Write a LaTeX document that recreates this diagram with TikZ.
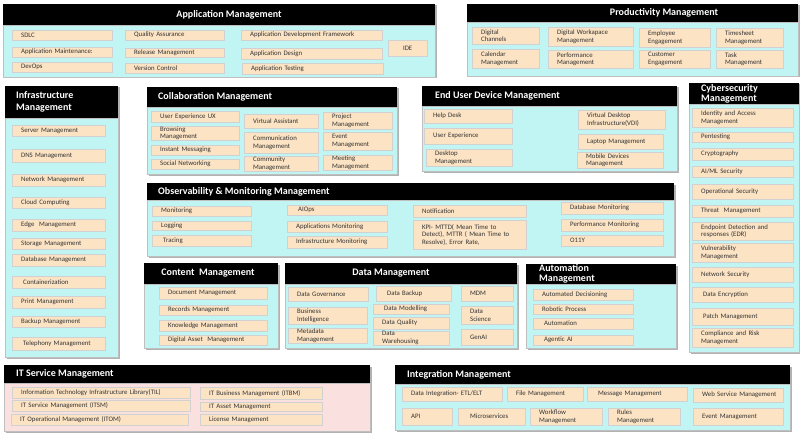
\documentclass[tikz,border=0pt]{standalone}
\usepackage{fontspec}
\setmainfont{Carlito}
\usetikzlibrary{shadows}
\definecolor{bodycyan}{HTML}{C0F5F3}
\definecolor{bodypink}{HTML}{FBE0E0}
\definecolor{peach}{HTML}{FCE3C3}
\definecolor{itemtext}{HTML}{333333}
\tikzset{
  itembox/.style={fill=peach, draw=black!18, line width=0.3pt, inner ysep=0pt, inner xsep=9pt,
    align=left, text=itemtext, font=\fontsize{6.8}{7.6}\selectfont,
    general shadow={fill=black!38, shadow xshift=0.8pt, shadow yshift=-1pt}},
  ptitle/.style={text=white, font=\fontsize{10}{11.5}\selectfont\bfseries, inner sep=0pt, align=left},
  ptitletight/.style={ptitle, font=\fontsize{10}{10.3}\selectfont\bfseries}
}
\newcommand\bx[7][]{%
  \pgfmathsetmacro\bxw{#5-#3}%
  \pgfmathsetmacro\bxh{#6-#4}%
  \pgfmathsetmacro\bxt{#5-#3-18}%
  \node[itembox, minimum width=\bxw pt, minimum height=\bxh pt, text width=\bxt pt, anchor=north west, #1] (#2) at (#3,#4) {#7};}
\newcommand\panel[7]{%
  \fill[black!30] (#2+1.5,#3+1.5) rectangle (#5+1.5,#6+1.5);
  \draw[fill=#7, draw=black!25, line width=0.4pt] (#2,#4) rectangle (#5,#6);
  \fill[black] (#2,#3) rectangle (#5,#4);
  \coordinate (#1) at (#2,#3);}
\begin{document}
\begin{tikzpicture}[x=1pt, y=-1pt]
\useasboundingbox[fill=white] (0,0) rectangle (800,433);

% ---------- Application Management
\panel{app}{3}{4}{25}{435}{77}{bodycyan}
\node[ptitle] (apptitle) at (229,14.5) {Application Management};
\bx{sdlc}{12}{30}{112}{40}{SDLC}
\bx{appmaint}{12}{47}{112}{57}{Application Maintenance:}
\bx{devops}{12}{62}{112}{72}{DevOps}
\bx{qa}{125}{30}{224}{40}{Quality Assurance}
\bx{release}{125}{48}{224}{57}{Release Management}
\bx{vc}{125}{63}{224}{73}{Version Control}
\bx{adf}{241}{30}{382}{40}{Application Development Framework}
\bx{adesign}{241}{48}{382}{59}{Application Design}
\bx{atest}{242}{63}{383}{74}{Application Testing}
\bx[align=center]{ide}{388}{40}{427}{56}{IDE}

% ---------- Productivity Management
\panel{prod}{467}{4}{22}{798}{76}{bodycyan}
\node[ptitle] (prodtitle) at (664,13) {Productivity Management};
\bx{digch}{472}{27}{539}{44}{Digital\\Channels}
\bx{cal}{472}{49}{539}{68}{Calendar\\Management}
\bx{dwm}{548}{27}{633}{46}{Digital Workapace\\Management}
\bx{perf}{548}{50}{633}{68}{Performance\\Management}
\bx{emp}{639}{28}{710}{47}{Employee\\Engagement}
\bx{cust}{639}{50}{710}{68}{Customer\\Engagement}
\bx{ts}{716}{28}{783}{47}{Timesheet\\Management}
\bx{task}{716}{50}{783}{68}{Task\\Management}

% ---------- Infrastructure Management
\panel{infra}{5}{86}{118}{118}{357}{bodycyan}
\node[ptitle, anchor=west] (infratitle) at (16,102) {Infrastructure\\Management};
\bx{server}{12}{125}{105}{136}{Server Management}
\bx{dns}{12}{149}{105}{162}{DNS Management}
\bx{netm}{12}{174}{105}{186}{Network Management}
\bx{cloud}{12}{197}{105}{208}{Cloud Computing}
\bx{edge}{12}{219}{105}{231}{Edge\ \ Management}
\bx{storage}{12}{238}{105}{249}{Storage Management}
\bx{dbm}{12}{254}{105}{266}{Database Management}
\bx{cont}{12}{276}{105}{288}{\hspace{2pt}Containerization}
\bx{print}{12}{296}{105}{308}{Print Management}
\bx{backup}{12}{316}{105}{327}{Backup Management}
\bx{tel}{12}{337}{105}{350}{\hspace{2pt}Telephony Management}

% ---------- Collaboration Management
\panel{collab}{147}{87}{107}{397}{174}{bodycyan}
\node[ptitle, anchor=west] (collabtitle) at (158,97) {Collaboration Management};
\bx{uxx}{151}{111}{239}{122}{User Experience UX}
\bx{browse}{151}{126}{239}{140}{Browsing\\Management}
\bx{im}{151}{145}{239}{155}{Instant Messaging}
\bx{social}{151}{159}{239}{169}{Social Networking}
\bx{va}{244}{114}{318}{128}{Virtual Assistant}
\bx{comm}{244}{132}{318}{153}{Communication\\Management}
\bx{community}{244}{156}{318}{171}{Community\\Management}
\bx{project}{323}{112}{392}{129}{Project\\Management}
\bx{event}{323}{132}{392}{150}{Event\\Management}
\bx{meeting}{323}{155}{392}{170}{Meeting\\Management}

% ---------- End User Device Management
\panel{eud}{422}{86}{106}{677}{171}{bodycyan}
\node[ptitle, anchor=west] (eudtitle) at (435,96) {End User Device Management};
\bx{help}{424}{109}{512}{123}{Help Desk}
\bx{ue}{424}{128}{512}{144}{User Experience}
\bx{desk}{426}{149}{512}{166}{Desktop\\Management}
\bx{vdi}{578}{110}{665}{129}{Virtual Desktop\\Infrastructure(VDI)}
\bx{laptop}{578}{134}{663}{149}{Laptop Management}
\bx{mobile}{577}{152}{663}{168}{Mobile Devices\\Management}

% ---------- Cybersecurity Management
\panel{cyber}{689}{83}{104}{799}{352}{bodycyan}
\node[ptitletight, anchor=west] (cybertitle) at (701,93.5) {Cybersecurity\\Management};
\bx{iam}{692}{108}{793}{127}{Identity and Access\\Management}
\bx{pent}{692}{132}{793}{142}{Pentesting}
\bx{crypto}{692}{148}{793}{160}{Cryptography}
\bx{aiml}{692}{166}{793}{177}{AI/ML Security}
\bx{opsec}{692}{184}{793}{199}{Operational Security}
\bx{threat}{692}{205}{793}{217}{Threat\ \ Management}
\bx{edr}{692}{222}{793}{240}{Endpoint Detection and\\responses (EDR)}
\bx{vuln}{692}{243}{793}{262}{Vulnerability\\Management}
\bx{netsec}{692}{267}{793}{282}{Network Security}
\bx{enc}{692}{287}{793}{302}{\hspace{2pt}Data Encryption}
\bx{patch}{692}{308}{793}{325}{\hspace{2pt}Patch Management}
\bx{compl}{692}{328}{793}{347}{Compliance and Risk\\Management}

% ---------- Observability & Monitoring Management
\panel{obs}{147}{183}{200}{674}{256}{bodycyan}
\node[ptitle, anchor=west] (obstitle) at (158,191.5) {Observability \& Monitoring Management};
\bx{mon}{152}{206}{251}{216}{Monitoring}
\bx{logg}{152}{221}{251}{230}{Logging}
\bx{trac}{152}{235}{251}{246}{\hspace{2pt}Tracing}
\bx{aiops}{287}{205}{387}{215}{\hspace{2pt}AIOps}
\bx{appmon}{287}{221}{387}{232}{Applications Monitoring}
\bx{inframon}{287}{236}{387}{248}{Infrastructure Monitoring}
\bx{notif}{413}{205}{526}{217}{Notification}
\bx{kpi}{413}{220}{526}{249}{KPI- MTTD( Mean Time to\\Detect), MTTR ( Mean Time to\\Resolve), Error Rate,}
\bx{dbmon}{561}{202}{663}{214}{Database Monitoring}
\bx{perfmon}{561}{219}{663}{231}{Performance Monitoring}
\bx{o11y}{561}{235}{663}{246}{O11Y}

% ---------- Content Management
\panel{content}{144}{263}{284}{278}{348}{bodycyan}
\node[ptitle] (contenttitle) at (208,273.5) {Content\ \ Management};
\bx{doc}{159}{287}{267}{299}{Document Management}
\bx{rec}{159}{305}{267}{315}{Records Management}
\bx{know}{159}{320}{267}{331}{Knowledge Management}
\bx{dam}{159}{335}{267}{345}{Digital Asset\ \ Management}

% ---------- Data Management
\panel{data}{285}{263}{284}{517}{348}{bodycyan}
\node[ptitle] (datatitle) at (391,273.5) {Data Management};
\bx{dgov}{288}{287}{368}{301}{Data Governance}
\bx{bi}{288}{307}{367}{324}{Business\\Intelligence}
\bx{meta}{288}{328}{367}{343}{Metadata\\Management}
\bx{dback}{376}{286}{451}{301}{\hspace{2pt}Data Backup}
\bx{dmod}{373}{304}{449}{314}{\hspace{2pt}Data Modelling}
\bx{dqual}{373}{317}{449}{329}{Data Quality}
\bx{dwh}{373}{331}{449}{345}{Data\\Warehousing}
\bx{mdm}{461}{286}{513}{301}{MDM}
\bx{dsci}{461}{306}{513}{324}{Data\\Science}
\bx{genai}{461}{329}{513}{345}{GenAI}

% ---------- Automation Management
\panel{auto}{526}{264}{284}{676}{348}{bodycyan}
\node[ptitletight, anchor=west] (autotitle) at (539,274) {Automation\\Management};
\bx{autodec}{533}{289}{633}{300}{Automated Decisioning}
\bx{robotic}{533}{304}{633}{314}{Robotic Process}
\bx{automation}{533}{318}{633}{329}{\hspace{2pt}Automation}
\bx{agentic}{533}{335}{633}{345}{\hspace{2pt}Agentic AI}

% ---------- IT Service Management
\panel{itsm}{4}{365}{383}{370}{431}{bodypink}
\node[ptitle, anchor=west] (itsmtitle) at (16,374) {IT Service Management};
\bx{itil}{12}{387}{190}{398}{Information Technology Infrastructure Library(TIL)}
\bx{itsmi}{12}{400}{190}{411}{IT Service Management (ITSM)}
\bx{itom}{11}{414}{188}{425}{IT Operational Management (ITOM)}
\bx{itbm}{200}{387}{322}{399}{IT Business Management (ITBM)}
\bx{itasset}{200}{402}{322}{411}{IT Asset Management}
\bx{lic}{200}{414}{322}{425}{License Management}

% ---------- Integration Management
\panel{integ}{395}{365}{384}{790}{430}{bodycyan}
\node[ptitle, anchor=west] (integtitle) at (407,374.5) {Integration Management};
\bx{etl}{402}{387}{502}{401}{Data Integration- ETL/ELT}
\bx{file}{507}{387}{583}{401}{File Management}
\bx{msg}{587}{387}{687}{401}{\hspace{2pt}Message Management}
\bx{ws}{693}{388}{783}{402}{\mbox{Web Service Management}}
\bx{api}{402}{408}{452}{425}{API}
\bx{micro}{458}{408}{525}{425}{\hspace{3pt}Microservices}
\bx{workflow}{530}{408}{602}{425}{Workflow\\Management}
\bx{rules}{608}{408}{680}{425}{Rules\\Management}
\bx{eventm}{693}{408}{783}{425}{Event Management}
\end{tikzpicture}
\end{document}
